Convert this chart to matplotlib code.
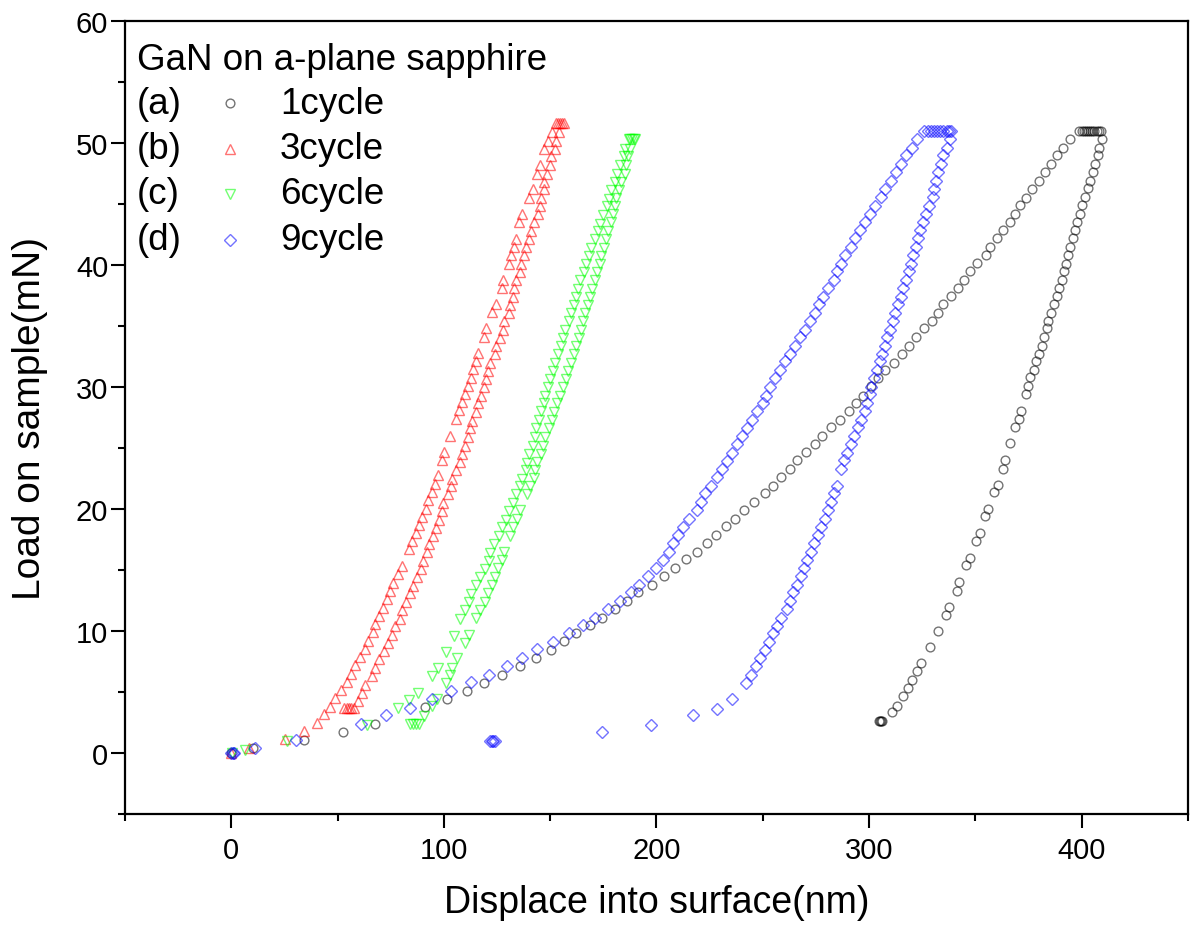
import matplotlib
matplotlib.use("Agg")
import matplotlib.pyplot as plt
from matplotlib.ticker import MultipleLocator

plt.rcParams["font.family"] = ["Liberation Sans", "DejaVu Sans"]

# ---- 1cycle (black circles) ----
load_x1 = [0, 10, 34, 52.7, 67.8, 91, 101.4, 111, 119, 127.4, 135.7, 143.5, 150.4, 156.7, 162.3,
           168.9, 174.6, 180.6, 186, 191.2, 197.8, 203.3, 208.5, 213.8, 219, 223.6, 228, 232.7, 237, 241.3,
           245.9, 250.9, 255, 258.8, 263, 266.2, 270.3, 274.5, 278, 282.3, 286.5, 290.4, 293.7, 297.2, 301,
           304.2, 307.7, 311.7, 315.6, 319, 322.2, 325.7, 329.4, 332.4, 335, 338.5, 341.8, 344.6, 347.4, 350.9,
           355, 357, 360.2, 363.1, 366.3, 368.5, 371, 374, 376.8, 379.7, 382.8, 385.6, 388.6, 391.4, 394.7]
load_y1 = [0, 0.4, 1.05, 1.75, 2.4, 3.75, 4.4, 5.1, 5.75, 6.4, 7.1, 7.8, 8.45, 9.15, 9.8,
           10.5, 11.1, 11.8, 12.5, 13.2, 13.8, 14.5, 15.2, 15.9, 16.5, 17.2, 17.9, 18.6, 19.2, 19.9,
           20.6, 21.3, 21.9, 22.6, 23.3, 24.0, 24.7, 25.3, 26.0, 26.7, 27.3, 28.0, 28.7, 29.3, 30.1,
           30.7, 31.4, 32.0, 32.7, 33.4, 34.1, 34.8, 35.4, 36.1, 36.8, 37.5, 38.1, 38.8, 39.5, 40.2,
           40.8, 41.5, 42.2, 42.9, 43.5, 44.2, 44.9, 45.5, 46.2, 46.9, 47.6, 48.3, 49.0, 49.6, 50.3]
hold_x1 = [398.9, 400.0, 401.0, 402.0, 403.0, 404.0, 405.0, 406.0, 407.0, 408.0, 409.0]
hold_y1 = [51.0, 51.0, 51.0, 51.0, 51.0, 51.0, 51.0, 51.0, 51.0, 51.0, 51.0]
unload_x1 = [409.4, 408.3, 407.5, 406.3, 405.3, 404.1, 402.8, 401.6, 400.2, 399.2, 397.8, 396.9, 396.0,
             394.7, 393.4, 392.8, 391.5, 390.6, 389.4, 388.3, 387.0, 385.6, 384.4, 383.6, 382.5, 381.4,
             379.8, 378.6, 377.5, 375.8, 374.6, 374.0, 371.5, 370.3, 368.7, 366.5, 363.8, 362.9, 360.6,
             359.0, 355.9, 354.6, 352.3, 350.4, 347.3, 345.4, 342.4, 341.2, 337.7, 336.0, 332.2, 328.5,
             324.6, 322.4, 320.2, 318.2, 316.1, 313.0, 311.0, 306.0, 305.5, 305.0, 304.5]
unload_y1 = [50.3, 49.6, 49.0, 48.3, 47.6, 46.9, 46.3, 45.6, 44.9, 44.2, 43.5, 42.9, 42.2,
             41.5, 40.8, 40.1, 39.5, 38.8, 38.1, 37.5, 36.8, 36.1, 35.4, 34.8, 34.1, 33.4,
             32.7, 32.1, 31.4, 30.8, 30.1, 29.4, 28.0, 27.4, 26.7, 25.4, 24.0, 23.3, 22.0,
             21.4, 20.0, 19.4, 18.0, 17.4, 16.0, 15.4, 14.0, 13.3, 12.0, 11.35, 10.0, 8.7,
             7.4, 6.7, 6.0, 5.3, 4.65, 3.85, 3.35, 2.6, 2.6, 2.6, 2.6]

# ---- 3cycle (red up triangles) ----
load_x3 = [0, 8.1, 25.2, 34.3, 40.5, 43.7, 46.5, 48.8, 51.8, 54.3, 56.2, 58.2, 60.4, 62.9, 64.5,
           66.7, 67.6, 69.5, 71.4, 73.4, 74.5, 76.1, 78.4, 80.1, 83.6, 85.1, 86.7, 88.3, 89.5, 91.4,
           92.6, 94.2, 95.8, 97.0, 98.9, 100.0, 102.8, 105.5, 107.0, 108.3, 109.9, 111.1, 112.7, 113.9,
           115.2, 116.1, 118.8, 119.9, 122.7, 124.3, 127.1, 127.9, 130.5, 131.6, 132.9, 133.7, 135.5,
           136.8, 140.2, 141.8, 143.8, 145.1, 147.0, 149.0, 150.9]
load_y3 = [0, 0.45, 1.12, 1.8, 2.5, 3.2, 3.8, 4.5, 5.2, 5.8, 6.5, 7.2, 7.85, 8.55, 9.2,
           9.9, 10.6, 11.25, 11.9, 12.6, 13.25, 13.95, 14.65, 15.3, 16.7, 17.35, 18.0, 18.7, 19.35, 20.0,
           20.7, 21.4, 22.05, 22.75, 24.05, 24.7, 26.0, 27.4, 28.1, 28.75, 29.45, 30.1, 30.75, 31.45,
           32.1, 32.8, 34.1, 34.8, 36.15, 36.8, 38.1, 38.8, 40.1, 40.8, 41.5, 42.15, 43.5,
           44.2, 45.5, 46.2, 47.5, 48.2, 49.5, 50.2, 50.9]
hold_x3 = [152.5, 153.5, 154.5, 155.5, 156.3]
hold_y3 = [51.6, 51.6, 51.6, 51.6, 51.6]
unload_x3 = [154.2, 152.8, 152.1, 150.5, 150.0, 148.7, 147.1, 147.1, 145.5, 145.1, 144.1, 142.5, 141.1,
             139.9, 138.7, 137.6, 136.3, 135.7, 134.0, 133.0, 132.5, 131.3, 130.5, 128.3, 127.7, 126.3,
             124.7, 124.2, 121.9, 120.8, 119.6, 118.9, 117.4, 116.1, 114.9, 113.3, 112.2, 111.3, 109.9,
             108.6, 107.5, 105.9, 103.9, 103.1, 101.9, 99.5, 99.2, 97.9, 96.4, 94.8, 93.0, 91.9, 90.3,
             89.2, 87.5, 85.4, 83.9, 82.0, 80.4, 79.2, 77.0, 75.4, 73.5, 71.7, 69.5, 67.5, 66.0, 62.9,
             61.4, 59.8, 57.7, 56.5, 55.3, 54.2, 53.1]
unload_y3 = [50.9, 50.2, 49.55, 48.9, 48.2, 47.5, 46.8, 46.2, 45.5, 44.85, 44.15, 43.5, 42.8,
             42.15, 41.5, 40.8, 40.1, 39.4, 38.75, 38.1, 37.4, 36.75, 36.05, 35.4, 34.7, 34.05,
             33.35, 32.7, 32.0, 31.35, 30.65, 30.0, 29.3, 28.65, 27.95, 27.25, 26.6, 25.9, 25.2,
             24.5, 23.85, 23.2, 22.5, 21.85, 21.2, 20.5, 19.8, 19.1, 18.45, 17.8, 17.1, 16.45, 15.75,
             15.1, 14.4, 13.7, 13.1, 12.35, 11.7, 11.0, 10.4, 9.7, 9.05, 8.4, 7.7, 7.0, 6.35, 5.6,
             4.9, 4.25, 3.65, 3.65, 3.65, 3.65, 3.65]

# ---- 6cycle (green down triangles) ----
load_x6 = [0.5, 6.4, 26.0, 64.0, 78.4, 83.6, 87.8, 94.5, 97.2, 101.1, 104.7, 107.8, 109.9, 111.7, 112.9,
           115.3, 117.1, 119.2, 121.1, 121.8, 123.5, 125.8, 127.4, 129.0, 130.5, 132.4, 134.1, 135.7,
           136.8, 138.6, 139.1, 139.9, 141.8, 142.7, 143.5, 144.6, 145.8, 146.9, 147.7, 149.0, 150.1,
           151.2, 152.4, 153.7, 155.1, 155.9, 157.1, 158.7, 160.0, 161.0, 162.1, 163.1, 164.2, 165.7,
           167.0, 168.1, 169.4, 170.9, 172.3, 173.2, 174.8, 176.7, 177.8, 178.6, 180.3, 181.4, 182.6,
           184.5, 185.0]
load_y6 = [0, 0.25, 0.95, 2.3, 3.7, 4.35, 4.95, 6.35, 6.95, 8.3, 9.6, 11.0, 11.7, 12.35, 13.05,
           13.75, 14.4, 15.1, 15.7, 16.4, 17.1, 17.8, 18.5, 19.1, 19.8, 20.5, 21.2, 21.85,
           22.5, 23.2, 23.8, 24.55, 25.2, 25.9, 26.6, 27.3, 28.0, 28.7, 29.3, 30.0, 30.65,
           31.35, 32.0, 32.7, 33.35, 34.05, 34.7, 35.4, 36.05, 36.7, 37.4, 38.05, 38.75, 39.4,
           40.05, 40.75, 41.4, 42.1, 42.75, 43.4, 44.1, 44.8, 45.4, 46.15, 46.8, 47.5, 48.2,
           48.9, 49.55]
hold_x6 = [186.9, 187.7, 188.5, 189.3, 190.0]
hold_y6 = [50.3, 50.3, 50.3, 50.3, 50.3]
unload_x6 = [187.6, 186.5, 185.5, 185.0, 183.2, 182.5, 180.9, 180.6, 179.5, 178.7, 177.0, 176.2, 175.1,
             174.0, 173.2, 171.9, 170.9, 169.6, 168.5, 167.7, 166.5, 165.4, 164.6, 163.4, 162.1, 161.0,
             160.0, 158.4, 157.4, 155.9, 154.8, 153.1, 151.9, 150.8, 149.3, 147.7, 146.5, 145.8, 143.8,
             143.0, 142.3, 140.4, 139.1, 136.0, 134.4, 132.6, 131.3, 128.2, 127.1, 125.5, 123.9, 122.4,
             120.8, 119.5, 117.1, 115.3, 111.7, 109.7, 106.3, 103.9, 102.8, 100.8, 96.9, 94.5, 90.6,
             88.3, 87.0, 85.5, 84.0]
unload_y6 = [49.55, 48.9, 48.2, 47.5, 46.8, 46.15, 45.5, 44.8, 44.2, 43.5, 42.8, 42.1, 41.4,
             40.75, 40.05, 39.4, 38.75, 38.05, 37.4, 36.7, 36.05, 35.4, 34.7, 34.05, 33.35, 32.7,
             32.0, 31.35, 30.65, 30.0, 29.3, 28.65, 27.95, 27.3, 26.6, 25.9, 25.2, 24.55, 23.85,
             23.2, 22.55, 21.85, 21.2, 19.9, 19.2, 18.5, 17.8, 16.5, 15.8, 15.15, 14.45, 13.8,
             13.1, 12.4, 11.75, 11.05, 9.7, 9.05, 7.75, 7.0, 6.4, 5.7, 4.4, 3.85, 3.0,
             2.35, 2.35, 2.35, 2.35]

# ---- 9cycle (blue diamonds) ----
load_x9 = [0.0, 0.6, 1.2, 11.3, 30.4, 61.2, 72.9, 83.9, 94.2, 103.3, 112.7, 121.1, 129.6, 136.8, 144.0,
           151.5, 158.8, 165.4, 171.0, 177.1, 182.7, 188.1, 191.8, 196.2, 199.7, 203.0, 205.9, 207.8,
           210.0, 212.7, 215.5, 218.9, 220.8, 223.0, 225.5, 228.6, 230.7, 233.2, 235.6, 238.0, 240.0,
           242.6, 244.9, 247.4, 249.9, 251.6, 253.4, 255.7, 258.0, 260.6, 262.6, 265.1, 267.3, 270.0,
           272.0, 274.5, 276.5, 278.4, 280.8, 283.3, 285.0, 287.0, 288.9, 291.4, 293.4, 295.9, 298.0,
           300.5, 303.0, 305.5, 307.7, 310.5, 312.7, 315.2, 317.6, 320.3, 322.5]
load_y9 = [0, 0, 0, 0.4, 1.04, 2.4, 3.1, 3.7, 4.4, 5.1, 5.8, 6.4, 7.1, 7.8, 8.5,
           9.1, 9.8, 10.5, 11.1, 11.8, 12.5, 13.2, 13.8, 14.5, 15.2, 15.8, 16.5, 17.2,
           17.9, 18.55, 19.2, 19.9, 20.6, 21.3, 21.9, 22.6, 23.3, 23.9, 24.6, 25.3, 26.0,
           26.6, 27.3, 28.0, 28.65, 29.3, 30.0, 30.7, 31.4, 32.1, 32.7, 33.4, 34.1, 34.7,
           35.4, 36.1, 36.8, 37.4, 38.1, 38.8, 39.5, 40.1, 40.8, 41.5, 42.2, 42.9, 43.5,
           44.2, 44.8, 45.6, 46.2, 46.9, 47.6, 48.3, 49.0, 49.6, 50.3]
hold_x9 = [325.8, 327.5, 329.0, 330.5, 332.0, 333.5, 335.0, 336.5, 337.5, 338.6]
hold_y9 = [51.0, 51.0, 51.0, 51.0, 51.0, 51.0, 51.0, 51.0, 51.0, 51.0]
unload_x9 = [337.9, 336.6, 335.0, 334.0, 332.6, 331.5, 330.7, 330.0, 328.4, 326.8, 325.6, 324.0, 322.9,
             322.2, 320.7, 319.9, 318.6, 317.5, 316.0, 314.9, 313.6, 312.4, 311.3, 310.0, 308.6, 307.4,
             306.1, 305.0, 303.9, 302.3, 301.0, 300.3, 299.2, 298.0, 296.4, 294.8, 293.0, 291.4, 289.8,
             288.3, 286.7, 284.7, 283.5, 282.3, 280.8, 279.5, 277.6, 276.1, 274.2, 272.6, 270.6, 269.3,
             267.9, 265.9, 264.3, 262.8, 261.2, 258.8, 256.9, 255.0, 253.0, 250.9, 248.8, 247.0, 244.4,
             242.1, 235.4, 228.6, 217.0, 197.2, 174.3, 124.0, 123.2, 122.4, 121.6]
unload_y9 = [50.3, 49.6, 49.0, 48.3, 47.6, 46.9, 46.2, 45.6, 44.85, 44.2, 43.5, 42.9, 42.2,
             41.5, 40.8, 40.1, 39.5, 38.8, 38.1, 37.4, 36.8, 36.1, 35.4, 34.7, 34.1, 33.4,
             32.7, 32.1, 31.4, 30.7, 30.0, 29.4, 28.7, 28.0, 27.3, 26.7, 26.0, 25.3, 24.6,
             24.0, 23.3, 21.9, 21.3, 20.6, 19.9, 19.2, 18.55, 17.9, 17.2, 16.5, 15.8, 15.15,
             14.5, 13.8, 13.2, 12.5, 11.8, 11.1, 10.45, 9.8, 9.1, 8.45, 7.75, 7.1, 6.4,
             5.7, 4.4, 3.6, 3.1, 2.3, 1.75, 1.0, 1.0, 1.0, 1.0]

series = [
    ("(a)", "1cycle", "o", "#000000", 6.3, load_x1 + hold_x1 + unload_x1, load_y1 + hold_y1 + unload_y1),
    ("(b)", "3cycle", "^", "#ff0000", 7.5, load_x3 + hold_x3 + unload_x3, load_y3 + hold_y3 + unload_y3),
    ("(c)", "6cycle", "v", "#00ff00", 7.5, load_x6 + hold_x6 + unload_x6, load_y6 + hold_y6 + unload_y6),
    ("(d)", "9cycle", "D", "#0000ff", 6.0, load_x9 + hold_x9 + unload_x9, load_y9 + hold_y9 + unload_y9),
]

fig = plt.figure(figsize=(11.92, 9.37), dpi=100)
ax = fig.add_axes([0.1049, 0.1302, 0.8917, 0.8463])

for tag, name, mk, col, ms, xs, ys in series:
    ax.plot(xs, ys, linestyle="none", marker=mk, markersize=ms, markerfacecolor="none",
            markeredgecolor=col, markeredgewidth=1.0, alpha=0.55)

ax.set_xlim(-50, 450)
ax.set_ylim(-5, 60)
ax.xaxis.set_major_locator(MultipleLocator(100))
ax.xaxis.set_minor_locator(MultipleLocator(50))
ax.yaxis.set_major_locator(MultipleLocator(10))
ax.yaxis.set_minor_locator(MultipleLocator(5))
ax.tick_params(which="both", direction="out", width=1.5, labelsize=21, top=False, right=False)
ax.tick_params(axis="y", pad=2)
ax.tick_params(axis="x", pad=6)
ax.tick_params(which="major", length=10)
ax.tick_params(which="minor", length=5)
for sp in ax.spines.values():
    sp.set_linewidth(1.6)

ax.set_xlabel("Displace into surface(nm)", fontsize=27, labelpad=14)
ax.set_ylabel("Load on sample(mN)", fontsize=28, labelpad=20)

# legend block drawn by hand (tag, marker, name)
ax.text(0.0113, 0.952, "GaN on a-plane sapphire", transform=ax.transAxes, fontsize=26.5, va="center", ha="left")
rows_y = [0.896, 0.839, 0.782, 0.724]
for (tag, name, mk, col, ms, xs, ys), ry in zip(series, rows_y):
    ax.text(0.0113, ry, tag, transform=ax.transAxes, fontsize=26.5, va="center", ha="left")
    ax.plot([0.0988], [ry], transform=ax.transAxes, linestyle="none", marker=mk, markersize=ms,
            markerfacecolor="none", markeredgecolor=col, markeredgewidth=1.0, alpha=0.55)
    ax.text(0.1458, ry, name, transform=ax.transAxes, fontsize=26.5, va="center", ha="left")

fig.savefig("out.png", dpi=100)
